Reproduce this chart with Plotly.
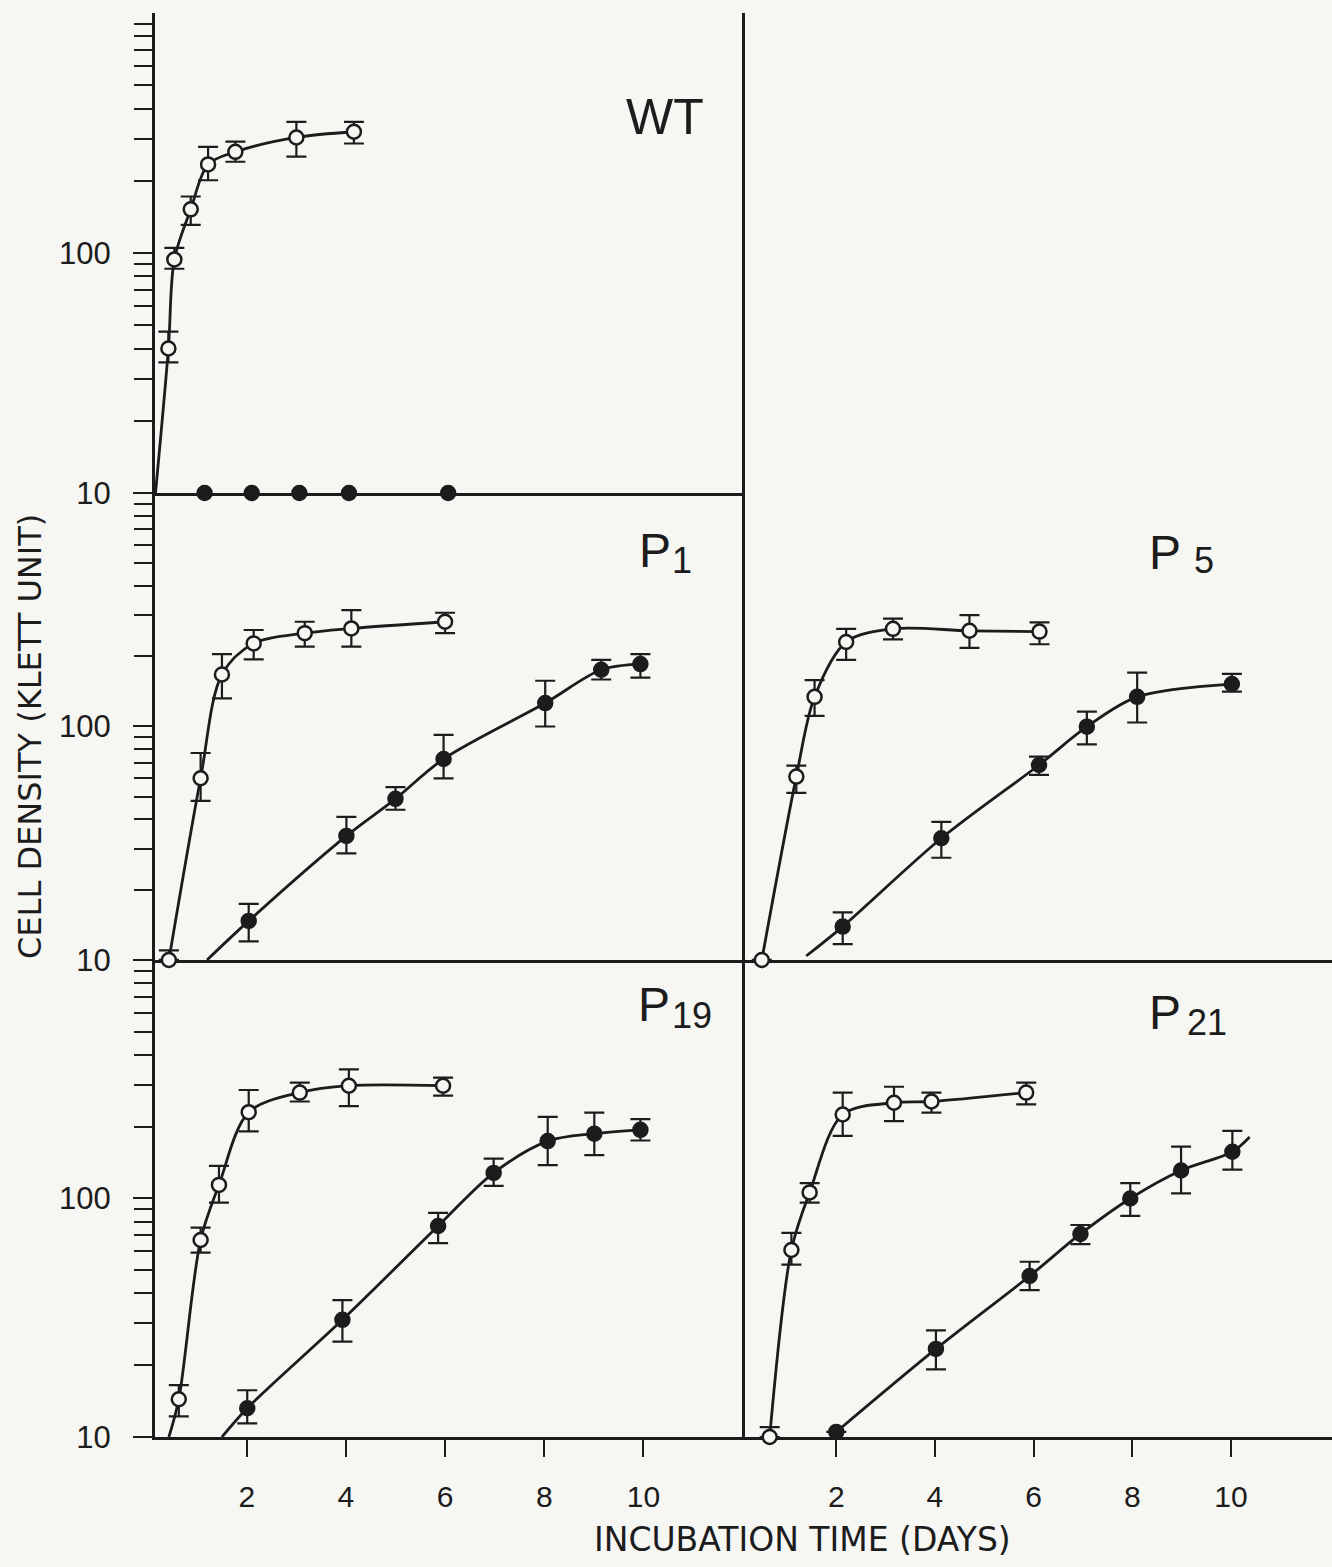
import plotly.graph_objects as go

# ------------------------------------------------------------------ data
# days of incubation, cell density (Klett units), error bar +/-
wt_open_days = [0.42, 0.54, 0.87, 1.22, 1.77, 3.0, 4.16]
wt_open_density = [40, 94, 152, 234, 264, 303, 320]
wt_open_err_up = [7, 11, 20, 43, 27, 49, 32]
wt_open_err_down = [5, 8, 21, 33, 24, 51, 34]
wt_open_lead_days = [0.16]
wt_open_lead_density = [10]
wt_filled_days = [1.15, 2.1, 3.06, 4.06, 6.06]
wt_filled_density = [10, 10, 10, 10, 10]

p1_open_days = [0.43, 1.07, 1.5, 2.14, 3.17, 4.11, 6.0]
p1_open_density = [10, 60, 167, 227, 251, 263, 281]
p1_open_err_up = [1, 17, 37, 32, 30, 52, 26]
p1_open_err_down = [0, 12, 35, 33, 31, 43, 30]
p1_filled_days = [2.04, 4.01, 5.0, 5.97, 8.02, 9.15, 9.94]
p1_filled_density = [14.7, 34, 49, 72.6, 126, 175, 185]
p1_filled_err_up = [2.7, 7, 6, 19.4, 31, 18, 19]
p1_filled_err_down = [2.7, 5.4, 5, 12.6, 26, 16, 23]
p1_filled_lead_days = [1.2]
p1_filled_lead_density = [10]

p5_open_days = [0.49, 1.19, 1.56, 2.2, 3.15, 4.7, 6.12]
p5_open_density = [10, 61, 134, 230, 262, 257, 255]
p5_open_err_up = [0, 7, 24, 32, 28, 43, 24]
p5_open_err_down = [0, 9, 23, 37, 26, 40, 30]
p5_filled_days = [2.13, 4.13, 6.11, 7.08, 8.1, 10.02]
p5_filled_density = [13.9, 33.2, 68.4, 99.8, 134, 152]
p5_filled_err_up = [2.1, 5.8, 5.9, 16, 36, 16]
p5_filled_err_down = [2.2, 5.8, 6.4, 16, 30, 11]
p5_filled_lead_days = [1.39]
p5_filled_lead_density = [10.4]

p19_open_days = [0.63, 1.07, 1.44, 2.04, 3.07, 4.06, 5.96]
p19_open_density = [14.4, 67, 114, 230, 278, 297, 297]
p19_open_err_up = [2.1, 8.5, 23, 55, 28, 51, 24]
p19_open_err_down = [2.2, 7.7, 18, 39, 23, 53, 27]
p19_open_lead_days = [0.43]
p19_open_lead_density = [10]
p19_filled_days = [2.01, 3.93, 5.86, 6.98, 8.07, 9.01, 9.94]
p19_filled_density = [13.2, 31, 76.7, 128, 174, 187, 194]
p19_filled_err_up = [2.5, 6.5, 10.3, 19, 46, 42, 21]
p19_filled_err_down = [1.8, 5.9, 11.7, 15, 36, 35, 19]
p19_filled_lead_days = [1.5]
p19_filled_lead_density = [10]

p21_open_days = [0.65, 1.09, 1.46, 2.13, 3.17, 3.93, 5.85]
p21_open_density = [10, 60.8, 106, 225, 252, 255, 278]
p21_open_err_up = [1, 11, 10, 53, 42, 23, 28]
p21_open_err_down = [0, 8, 10, 42, 41, 26, 30]
p21_filled_days = [2.0, 4.02, 5.92, 6.95, 7.96, 8.99, 10.03]
p21_filled_density = [10.5, 23.4, 47.3, 71, 100, 131, 157]
p21_filled_err_up = [0, 4.6, 7, 6.4, 16, 34, 35]
p21_filled_err_down = [0, 4.2, 6, 6.6, 15.5, 26, 25]
p21_filled_tail_days = [10.38]
p21_filled_tail_density = [181]

x_tick_vals = [2, 4, 6, 8, 10]
x_tick_text = ["2", "4", "6", "8", "10"]
y_major_vals = [10, 100]
y_major_text = ["10", "100"]
y_minor_vals = [20, 30, 40, 50, 60, 70, 80, 90, 200, 300, 400, 500, 600, 700, 800, 900]

panel_names = ["WT", "", "P", "P", "P", "P"]
panel_subs = ["", "", "1", "5", "19", "21"]

# ------------------------------------------------------------------ style
DARK = "#1c1c1c"
BG = "#f6f6f3"
TICK_FONT = "Liberation Sans Narrow, Liberation Sans, Arial, sans-serif"
LABEL_FONT = "Liberation Sans, Arial, sans-serif"
TITLE_FONT = "DejaVu Sans, Liberation Sans, sans-serif"

fig = go.Figure()


def curve(ax, xs, ys):
    fig.add_trace(go.Scatter(
        x=xs, y=ys, mode="lines", xaxis="x" + ax, yaxis="y" + ax,
        line=dict(color=DARK, width=2.8, shape="spline", smoothing=0.9),
        hoverinfo="skip", showlegend=False))


def points(ax, xs, ys, up, down, filled):
    err = None
    if up is not None:
        err = dict(type="data", symmetric=False, array=up, arrayminus=down,
                   color=DARK, thickness=2.2, width=10)
    fig.add_trace(go.Scatter(
        x=xs, y=ys, mode="markers", xaxis="x" + ax, yaxis="y" + ax,
        error_y=err, cliponaxis=False,
        marker=dict(symbol="circle", size=14,
                    color=DARK if filled else BG,
                    line=dict(color=DARK, width=2.5)),
        showlegend=False))


# WT (panel 1)
curve("", wt_open_lead_days + wt_open_days, wt_open_lead_density + wt_open_density)
points("", wt_open_days, wt_open_density, wt_open_err_up, wt_open_err_down, False)
points("", wt_filled_days, wt_filled_density, None, None, True)

# P1 (panel 3)
curve("3", p1_open_days, p1_open_density)
curve("3", p1_filled_lead_days + p1_filled_days, p1_filled_lead_density + p1_filled_density)
points("3", p1_open_days, p1_open_density, p1_open_err_up, p1_open_err_down, False)
points("3", p1_filled_days, p1_filled_density, p1_filled_err_up, p1_filled_err_down, True)

# P5 (panel 4)
curve("4", p5_open_days, p5_open_density)
curve("4", p5_filled_lead_days + p5_filled_days, p5_filled_lead_density + p5_filled_density)
points("4", p5_open_days, p5_open_density, p5_open_err_up, p5_open_err_down, False)
points("4", p5_filled_days, p5_filled_density, p5_filled_err_up, p5_filled_err_down, True)

# P19 (panel 5)
curve("5", p19_open_lead_days + p19_open_days, p19_open_lead_density + p19_open_density)
curve("5", p19_filled_lead_days + p19_filled_days, p19_filled_lead_density + p19_filled_density)
points("5", p19_open_days, p19_open_density, p19_open_err_up, p19_open_err_down, False)
points("5", p19_filled_days, p19_filled_density, p19_filled_err_up, p19_filled_err_down, True)

# P21 (panel 6)
curve("6", p21_open_days, p21_open_density)
curve("6", p21_filled_days + p21_filled_tail_days, p21_filled_density + p21_filled_tail_density)
points("6", p21_open_days, p21_open_density, p21_open_err_up, p21_open_err_down, False)
points("6", p21_filled_days, p21_filled_density, p21_filled_err_up, p21_filled_err_down, True)

# ------------------------------------------------------------------ axes
col_dom = [[0, 0.5013], [0.5013, 1]]
row_dom = [[0.6629, 1], [0.335, 0.6629], [0, 0.335]]

layout = {}
for i in range(6):
    if i == 1:
        continue  # top-right area is empty; its left edge is the WT panel's mirrored line
    r, c = divmod(i, 2)
    n = "" if i == 0 else str(i + 1)
    xa = dict(domain=col_dom[c], anchor="y" + n, range=[0.15, 12.05],
              showgrid=False, zeroline=False, layer="below traces",
              showline=True, linecolor=DARK, linewidth=3,
              ticks="", showticklabels=False, fixedrange=True)
    if i == 0:
        # pull the right edge in slightly so the mirrored line meets the divider below
        xa.update(domain=[0, 0.4990], range=[0.15, 11.99])
    if r == 2:
        xa.update(ticks="outside", tickvals=x_tick_vals, ticktext=x_tick_text,
                  ticklen=17, tickwidth=2, tickcolor=DARK, showticklabels=True,
                  ticklabelstandoff=14,
                  tickfont=dict(family=TICK_FONT, size=30, color=DARK))
    ya = dict(domain=row_dom[r], anchor="x" + n, type="log", range=[1, 3],
              showgrid=False, zeroline=False, layer="below traces",
              showline=True, linecolor=DARK, linewidth=3 if c == 0 else 2.5,
              ticks="", showticklabels=False, fixedrange=True)
    if c == 0:
        ya.update(ticks="outside", tickmode="array", tickvals=y_major_vals,
                  ticktext=y_major_text, ticklen=19, tickwidth=2, tickcolor=DARK,
                  showticklabels=True, ticklabelstandoff=16,
                  tickfont=dict(family=TICK_FONT, size=31, color=DARK),
                  minor=dict(tickmode="array", tickvals=y_minor_vals, ticks="outside",
                             ticklen=18, tickwidth=2, tickcolor=DARK, showgrid=False))
    if i == 0:
        ya.update(mirror=True)
    layout["xaxis" + n] = xa
    layout["yaxis" + n] = ya

# ------------------------------------------------------------------ labels
W, H = 1332, 1567
L, R, T, B = 155, 0, 13, 130
PW, PH = W - L - R, H - T - B


def px(x):
    return (x - L) / PW


def py(y):
    return (H - B - y) / PH


label_main_pos = [(665, 117), None, (655, 550), (1165, 552), (654, 1005), (1165, 1012)]
label_sub_pos = [None, None, (682, 560), (1204, 560), (692, 1015), (1207, 1022)]

annotations = []
for i in range(6):
    if label_main_pos[i] is not None and panel_names[i]:
        x0, y0 = label_main_pos[i]
        annotations.append(dict(
            text=panel_names[i], xref="paper", yref="paper", x=px(x0), y=py(y0),
            xanchor="center", yanchor="middle", showarrow=False,
            font=dict(family=LABEL_FONT, size=50 if i == 0 else 48, color=DARK)))
    if label_sub_pos[i] is not None and panel_subs[i]:
        x0, y0 = label_sub_pos[i]
        annotations.append(dict(
            text=panel_subs[i], xref="paper", yref="paper", x=px(x0), y=py(y0),
            xanchor="center", yanchor="middle", showarrow=False,
            font=dict(family=LABEL_FONT, size=36, color=DARK)))

annotations.append(dict(
    text="CELL DENSITY (KLETT UNIT)", xref="paper", yref="paper",
    x=px(30), y=py(737), textangle=-90, showarrow=False,
    xanchor="center", yanchor="middle",
    font=dict(family=TITLE_FONT, size=32, color=DARK)))
annotations.append(dict(
    text="INCUBATION TIME (DAYS)", xref="paper", yref="paper",
    x=px(802), y=py(1540), showarrow=False,
    xanchor="center", yanchor="middle",
    font=dict(family=TITLE_FONT, size=33, color=DARK)))

fig.update_layout(
    width=W, height=H,
    margin=dict(l=L, r=R, t=T, b=B, pad=0),
    paper_bgcolor=BG, plot_bgcolor="rgba(0,0,0,0)",
    showlegend=False, annotations=annotations,
    **layout)

fig.write_html(
    "out.html",
    config={"displayModeBar": False},
    post_script="document.body.style.margin='0px';document.body.style.overflow='hidden';")
